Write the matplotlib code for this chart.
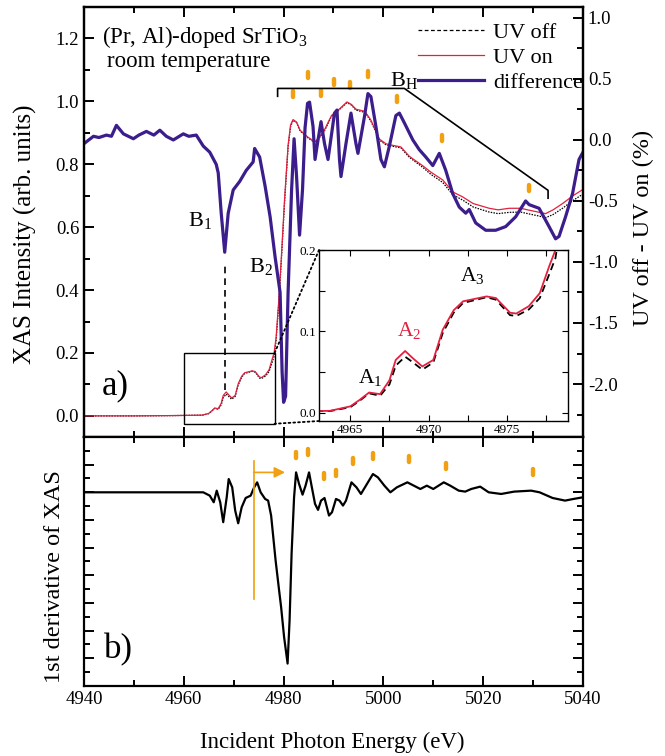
import numpy as np
import matplotlib
matplotlib.use('Agg')
import matplotlib.pyplot as plt
from matplotlib.patches import Rectangle, ConnectionPatch
from matplotlib.lines import Line2D
from matplotlib.ticker import MultipleLocator

plt.rcParams['font.family'] = ['Liberation Serif', 'DejaVu Serif']
plt.rcParams['mathtext.fontset'] = 'custom'
plt.rcParams['mathtext.rm'] = 'Liberation Serif'
plt.rcParams['mathtext.it'] = 'Liberation Serif:italic'
plt.rcParams['axes.unicode_minus'] = False
plt.rcParams['xtick.direction'] = 'in'
plt.rcParams['ytick.direction'] = 'in'

## Data
# XAS, UV on / UV off (left axis)
E_xas = [4940, 4950, 4958, 4962, 4963.7, 4965.0, 4965.6, 4966.2, 4966.9, 4967.5,
         4967.9, 4968.5, 4969.0, 4969.6, 4970.3, 4970.9, 4971.6, 4972.2, 4973.7, 4974.3,
         4975.2, 4975.6, 4976.4, 4977.1, 4977.7, 4978.1, 4978.5, 4979.0, 4979.5, 4980.2,
         4980.9, 4981.4, 4981.9, 4982.6, 4983.3, 4984.8, 4986.3, 4988.0, 4989.6, 4990.8,
         4992.7, 4993.6, 4994.5, 4996.3, 4997.5, 4999.2, 5000.5, 5001.9, 5003.5, 5005.2,
         5007.9, 5009.5, 5011.9, 5013.9, 5015.9, 5018.0, 5021.2, 5023.0, 5025.2, 5027.5,
         5029.2, 5031.0, 5032.5, 5034.0, 5035.9, 5038.0, 5040.0]
I_on = [0.000, 0.000, 0.001, 0.002, 0.0025, 0.008, 0.016, 0.025, 0.023, 0.040,
        0.065, 0.076, 0.067, 0.057, 0.065, 0.102, 0.126, 0.137, 0.143, 0.141,
        0.123, 0.122, 0.131, 0.147, 0.180, 0.200, 0.25, 0.36, 0.49, 0.69,
        0.86, 0.925, 0.942, 0.934, 0.908, 0.887, 0.871, 0.903, 0.955, 0.97,
        0.998, 0.99, 0.975, 0.968, 0.94, 0.88, 0.865, 0.86, 0.855, 0.825,
        0.795, 0.775, 0.75, 0.712, 0.696, 0.675, 0.66, 0.655, 0.66, 0.66,
        0.654, 0.648, 0.643, 0.655, 0.675, 0.70, 0.72]
I_off = [0.000, 0.000, 0.001, 0.002, 0.0022, 0.007, 0.015, 0.024, 0.021, 0.035,
         0.058, 0.069, 0.062, 0.053, 0.062, 0.098, 0.123, 0.135, 0.142, 0.139,
         0.120, 0.119, 0.127, 0.141, 0.170, 0.190, 0.24, 0.35, 0.48, 0.68,
         0.855, 0.92, 0.94, 0.932, 0.906, 0.885, 0.868, 0.9, 0.952, 0.968,
         0.996, 0.988, 0.972, 0.965, 0.937, 0.877, 0.862, 0.857, 0.852, 0.822,
         0.79, 0.768, 0.742, 0.703, 0.686, 0.664, 0.648, 0.643, 0.647, 0.648,
         0.642, 0.636, 0.630, 0.64, 0.66, 0.685, 0.705]

# difference UV off - UV on (right axis, %)
E_diff = [4940, 4941.9, 4943, 4944.5, 4945.5, 4946.5, 4947.9, 4949.9, 4951, 4952.5,
          4954, 4955.2, 4956.5, 4957.9, 4959.9, 4961, 4962.5, 4963.9, 4965.2, 4966.5,
          4966.9, 4967.5, 4968.2, 4968.9, 4969.9, 4971.2, 4972.5, 4973.9, 4974.2, 4975.2,
          4976.3, 4977.3, 4978.3, 4979.3, 4979.7, 4980.0, 4980.4, 4980.9, 4981.6, 4982.1,
          4982.6, 4983.2, 4983.8, 4984.3, 4984.8, 4985.2, 4985.9, 4986.3, 4986.9, 4987.5,
          4988.2, 4988.9, 4990.2, 4990.7, 4991.2, 4991.5, 4992.5, 4993.5, 4994.5, 4994.9,
          4996.2, 4996.9, 4997.5, 4998.5, 4999.5, 5000.2, 5001.2, 5002.5, 5003.2, 5004.2,
          5005.9, 5007.2, 5008.5, 5009.9, 5011.2, 5012.5, 5013.9, 5015.2, 5016.5, 5017.2,
          5018.5, 5020.5, 5022.5, 5024.5, 5026.5, 5028.5, 5029.2, 5031.2, 5033.2, 5034.5,
          5035.2, 5036.5, 5037.9, 5039.2, 5040]
D = [-0.03, 0.03, 0.02, 0.04, 0.03, 0.12, 0.05, 0.01, 0.04, 0.07,
     0.04, 0.08, 0.03, 0.0, 0.05, 0.03, 0.04, -0.05, -0.10, -0.20,
     -0.27, -0.60, -0.92, -0.60, -0.41, -0.34, -0.25, -0.18, -0.07, -0.14,
     -0.38, -0.63, -0.96, -1.25, -1.90, -2.15, -2.10, -1.25, -0.41, 0.01,
     -0.30, -0.78, -0.40, 0.10, 0.30, 0.31, 0.11, -0.16, 0.0, 0.15,
     -0.03, -0.16, 0.22, 0.245, -0.16, -0.30, -0.03, 0.22, -0.03, -0.11,
     0.19, 0.38, 0.355, 0.11, -0.16, -0.22, -0.05, 0.20, 0.22, 0.14,
     0.0, -0.08, -0.14, -0.21, -0.11, -0.25, -0.44, -0.55, -0.60, -0.57,
     -0.68, -0.74, -0.74, -0.71, -0.63, -0.50, -0.53, -0.56, -0.71, -0.81,
     -0.79, -0.63, -0.44, -0.16, -0.10]

# 1st derivative (arb.)
E_der = [4940, 4963.9, 4965.2, 4966.0, 4966.6, 4967.3, 4967.9, 4968.6, 4969.0, 4969.7,
         4970.3, 4970.9, 4971.6, 4972.4, 4973.4, 4974.1, 4974.7, 4975.4, 4976.3, 4976.9,
         4977.5, 4978.4, 4979.1, 4979.5, 4980.1, 4980.8, 4981.2, 4981.6, 4982.1, 4982.5,
         4983.1, 4983.8, 4984.4, 4985.1, 4985.6, 4986.3, 4986.9, 4987.5, 4988.2, 4989.1,
         4989.7, 4990.5, 4991.2, 4991.9, 4992.5, 4993.6, 4994.6, 4995.5, 4996.5, 4997.9,
         4998.9, 5000.2, 5001.4, 5002.7, 5004.8, 5006.1, 5007.4, 5008.7, 5010.0, 5012.1,
         5013.4, 5015.1, 5016.4, 5017.6, 5019.4, 5021.1, 5023.6, 5026.2, 5029.6, 5031.3,
         5033.9, 5036.4, 5038.1, 5040]
V_der = [0, 0, -0.24, -0.72, 0.12, -0.72, -2.16, -0.36, 0.96, 0.36,
         -1.32, -2.24, -1.08, -0.41, -0.24, 0.36, 0.72, 0, -0.48, -0.6,
         -1.68, -4.93, -7.09, -8.29, -10.46, -12.38, -9.25, -4.45, -0.36, 1.44,
         0.6, -0.17, 0.48, 1.44, 0.48, -0.84, -1.27, -0.6, -0.41, -1.68,
         -1.44, -0.48, -0.6, -0.96, -0.6, 0.72, 0.36, -0.12, 0.48, 1.32,
         1.08, 0.48, 0, 0.36, 0.72, 0.48, 0.24, 0.48, 0.24, 0.72,
         0.48, 0.12, 0.05, 0.24, 0.41, 0, -0.12, 0.05, 0.12, 0,
         -0.41, -0.6, -0.48, -0.36]

# orange peak markers
mark_top_E = [4981.9, 4984.9, 4987.4, 4990.1, 4993.4, 4996.9, 5002.8, 5011.7, 5029.1]
mark_top_y = [1.022, 1.083, 1.027, 1.060, 1.051, 1.087, 1.008, 0.882, 0.724]
mark_bot_E = [4982.4, 4984.9, 4988.0, 4990.5, 4993.9, 4997.9, 5005.2, 5012.5, 5030.0]
mark_bot_y = [2.67, 2.93, 1.18, 1.37, 2.28, 2.64, 2.40, 1.90, 1.47]

c_red = '#e3203f'
c_diff = '#3b1d8c'
c_or = '#f0a010'

##Layout
fig = plt.figure(figsize=(6.65, 7.56), dpi=100)
ax = fig.add_axes([0.1263, 0.422, 0.7504, 0.5688])
axr = ax.twinx()
axb = fig.add_axes([0.1263, 0.0926, 0.7504, 0.3294])

ax.set_xlim(4940, 5040)
ax.set_ylim(-0.067, 1.30)
axr.set_ylim(-2.434, 1.09)
axb.set_xlim(4940, 5040)
axb.set_ylim(-14, 4)

for a in (ax, axr, axb):
    for s in a.spines.values():
        s.set_linewidth(1.6)

ax.xaxis.set_major_locator(MultipleLocator(20))
ax.xaxis.set_minor_locator(MultipleLocator(10))
ax.yaxis.set_major_locator(MultipleLocator(0.2))
ax.yaxis.set_minor_locator(MultipleLocator(0.1))
ax.tick_params(which='both', top=True, right=False, labelbottom=False, width=1.4, labelsize=13.5)
ax.tick_params(which='major', length=7)
ax.tick_params(which='minor', length=4)

axr.yaxis.set_major_locator(MultipleLocator(0.5))
axr.yaxis.set_minor_locator(MultipleLocator(0.25))
axr.tick_params(which='both', width=1.4, labelsize=13.5)
axr.tick_params(which='major', length=7)
axr.tick_params(which='minor', length=4)

axb.xaxis.set_major_locator(MultipleLocator(20))
axb.xaxis.set_minor_locator(MultipleLocator(10))
axb.yaxis.set_major_locator(MultipleLocator(2))
axb.yaxis.set_minor_locator(MultipleLocator(1))
axb.tick_params(which='both', top=True, right=True, labelleft=False, width=1.4, labelsize=13.5)
axb.tick_params(which='major', length=7)
axb.tick_params(which='minor', length=4)

##Top panel curves
ax.plot(E_xas, I_off, color='k', lw=0.9, ls=(0, (1.2, 1.0)))
ax.plot(E_xas, I_on, color=c_red, lw=0.9)
axr.plot(E_diff, D, color=c_diff, lw=2.3)

# legend
handles = [Line2D([], [], color='k', lw=0.9, ls=(0, (3, 2))),
           Line2D([], [], color=c_red, lw=0.9),
           Line2D([], [], color=c_diff, lw=2.3)]
axr.legend(handles, ['UV off', 'UV on', 'difference'], loc='upper right', frameon=False,
           fontsize=16, handlelength=3.0, handletextpad=0.4, labelspacing=0.2,
           bbox_to_anchor=(1.04, 1.01))

# peak markers
for e, y in zip(mark_top_E, mark_top_y):
    ax.plot([e, e], [y - 0.0095, y + 0.0095], color=c_or, lw=3.2, solid_capstyle='round')

# B_H bracket
ax.plot([4978.8, 4978.8, 5004.2, 5033.0, 5033.0], [1.016, 1.041, 1.041, 0.717, 0.692],
        color='k', lw=1.2)
# B1 guide
ax.plot([4968.2, 4968.2], [0.083, 0.489], color='k', lw=1.2, ls=(0, (4, 3)))

ax.text(4960.8, 0.62, r'B$_1$', fontsize=16, va='center')
ax.text(4973.0, 0.476, r'B$_2$', fontsize=16, va='center')
ax.text(5001.4, 1.067, r'B$_\mathrm{H}$', fontsize=16, va='center')

ax.text(0.036, 0.93, r'(Pr, Al)-doped SrTiO$_3$', transform=ax.transAxes, fontsize=16.5, va='center')
ax.text(0.046, 0.872, 'room temperature', transform=ax.transAxes, fontsize=16.5, va='center')
ax.text(0.036, 0.119, 'a)', transform=ax.transAxes, fontsize=25, va='center')

# zoom box
ax.add_patch(Rectangle((4960, -0.025), 18.2, 0.225, fill=False, ec='k', lw=1.0, zorder=3))

##Inset
ins = fig.add_axes([0.4797, 0.4431, 0.3744, 0.2262])
ins.set_facecolor('white')
ins.plot(E_xas, I_off, color='k', lw=1.3, ls=(0, (4, 2.5)))
ins.plot(E_xas, I_on, color=c_red, lw=1.3)
ins.set_xlim(4963, 4978.9)
ins.set_ylim(-0.01, 0.2)
ins.xaxis.set_major_locator(MultipleLocator(5))
ins.xaxis.set_minor_locator(MultipleLocator(2.5))
ins.yaxis.set_major_locator(MultipleLocator(0.1))
ins.yaxis.set_minor_locator(MultipleLocator(0.05))
ins.tick_params(which='both', top=True, right=True, labelsize=9.5, length=4, width=0.8, pad=2)
for s in ins.spines.values():
    s.set_linewidth(1.0)
ins.text(4965.5, 0.044, r'A$_1$', fontsize=15.5, va='center')
ins.text(4968.0, 0.1006, r'A$_2$', fontsize=15.5, va='center', color=c_red)
ins.text(4972.0, 0.169, r'A$_3$', fontsize=15.5, va='center')

for xa, ya in [((0, 1), (4978.2, 0.2)), ((0, 0), (4978.2, -0.025))]:
    cp = ConnectionPatch(xyA=xa, coordsA=ins.transAxes, xyB=ya, coordsB=ax.transData,
                         ls=':', lw=1.3, color='k')
    fig.add_artist(cp)

##Bottom panel
axb.plot(E_der, V_der, color='k', lw=1.6)
for e, y in zip(mark_bot_E, mark_bot_y):
    axb.plot([e, e], [y - 0.22, y + 0.22], color=c_or, lw=3.2, solid_capstyle='round')
axb.plot([4974.0, 4974.0], [-7.74, 2.28], color=c_or, lw=1.2)
axb.annotate('', xy=(4980.3, 1.44), xytext=(4974.0, 1.44),
             arrowprops=dict(arrowstyle='-|>', color=c_or, lw=1.2, mutation_scale=16,
                             shrinkA=0, shrinkB=0))
axb.text(0.04, 0.145, 'b)', transform=axb.transAxes, fontsize=25, va='center')

##Axis labels
fig.text(25 / 665, 1 - 234 / 756, 'XAS Intensity (arb. units)', rotation=90, ha='center', va='center', fontsize=18)
fig.text(643 / 665, 1 - 228 / 756, 'UV off - UV on (%)', rotation=90, ha='center', va='center', fontsize=17.5)
fig.text(54 / 665, 1 - 577 / 756, '1st derivative of XAS', rotation=90, ha='center', va='center', fontsize=17.5)
fig.text(332 / 665, 1 - 742 / 756, 'Incident Photon Energy (eV)', ha='center', va='center', fontsize=16.5)

fig.savefig('out.png', dpi=100)
